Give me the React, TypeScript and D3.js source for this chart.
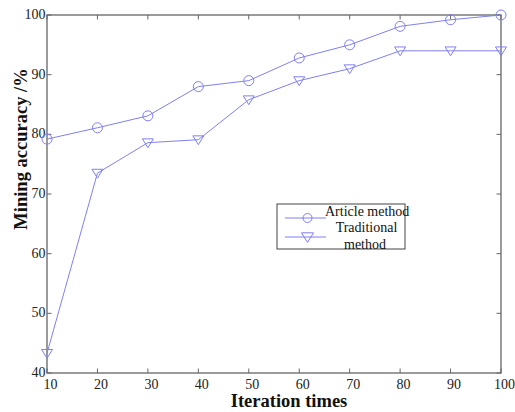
import React from "react";
import * as d3 from "d3";

const iterations = [10, 20, 30, 40, 50, 60, 70, 80, 90, 100];
const articleMethod = [79.2, 81.1, 83.1, 88.0, 89.0, 92.8, 95.0, 98.1, 99.2, 100];
const traditionalMethod = [43.3, 73.5, 78.6, 79.1, 85.8, 89.0, 91.0, 94.0, 94.0, 94.0];
const xTicks = [10, 20, 30, 40, 50, 60, 70, 80, 90, 100];
const yTicks = [40, 50, 60, 70, 80, 90, 100];

const W = 515, H = 412;
const L = 47, R = 501, T = 15, B = 373;
const color = "#8080f0";
const axisColor = "#666";
const font = "Liberation Serif";

export default function App() {
  const x = d3.scaleLinear().domain([10, 100]).range([L, R]);
  const y = d3.scaleLinear().domain([40, 100]).range([B, T]);
  const line = d3.line<number>().x((_, i) => x(iterations[i])).y((d) => y(d));
  const tick = 4.5;
  const tri = (cx: number, cy: number, s = 5.5) =>
    `M${cx - s},${cy - s * 0.7}L${cx + s},${cy - s * 0.7}L${cx},${cy + s * 0.9}Z`;
  return (
    <svg width={W} height={H} style={{ position: "absolute", left: 0, top: 0, background: "#fff" }}>
      <rect x={0} y={0} width={W} height={H} fill="#fff" />
      {xTicks.map((t) => (
        <g key={"x" + t}>
          <line x1={x(t)} x2={x(t)} y1={B} y2={B - tick} stroke={axisColor} />
          <line x1={x(t)} x2={x(t)} y1={T} y2={T + tick} stroke={axisColor} />
          <text x={x(t) + 3.5} y={388.5} textAnchor="middle" fontFamily={font} fontSize={14} fill="#222">
            {t}
          </text>
        </g>
      ))}
      {yTicks.map((t) => (
        <g key={"y" + t}>
          <line x1={L} x2={L + tick} y1={y(t)} y2={y(t)} stroke={axisColor} />
          <line x1={R} x2={R - tick} y1={y(t)} y2={y(t)} stroke={axisColor} />
          <text x={L - 1.5} y={y(t) + 4} textAnchor="end" fontFamily={font} fontSize={14} fill="#222">
            {t}
          </text>
        </g>
      ))}
      <rect x={L} y={T} width={R - L} height={B - T} fill="none" stroke={axisColor} strokeWidth={1.3} />
      <path d={line(articleMethod) || ""} fill="none" stroke={color} strokeWidth={1} />
      <path d={line(traditionalMethod) || ""} fill="none" stroke={color} strokeWidth={1} />
      {articleMethod.map((v, i) => (
        <circle key={"c" + i} cx={x(iterations[i])} cy={y(v)} r={5} fill="none" stroke={color} />
      ))}
      {traditionalMethod.map((v, i) => (
        <path key={"t" + i} d={tri(x(iterations[i]), y(v))} fill="none" stroke={color} />
      ))}
      <g>
        <rect x={277} y={204} width={128} height={45} fill="#fff" stroke="#444" strokeWidth={1} />
        <line x1={285} x2={326} y1={218} y2={218} stroke={color} />
        <circle cx={307.5} cy={218} r={4.5} fill="none" stroke={color} />
        <text x={325} y={216} fontFamily={font} fontSize={14} fill="#111">Article method</text>
        <line x1={285} x2={326} y1={237} y2={237} stroke={color} />
        <path d={tri(307.5, 237, 6)} fill="none" stroke={color} />
        <text x={366.5} y={232} textAnchor="middle" fontFamily={font} fontSize={14} fill="#111">Traditional</text>
        <text x={365} y={248.5} textAnchor="middle" fontFamily={font} fontSize={14} fill="#111">method</text>
      </g>
      <text x={289} y={407} textAnchor="middle" fontFamily={font} fontSize={18.5} fontWeight="bold" fill="#111">
        Iteration times
      </text>
      <text
        transform={`translate(27,149) rotate(-90)`}
        textAnchor="middle"
        fontFamily={font}
        fontSize={18.5}
        fontWeight="bold"
        fill="#111"
      >
        Mining accuracy /%
      </text>
    </svg>
  );
}
